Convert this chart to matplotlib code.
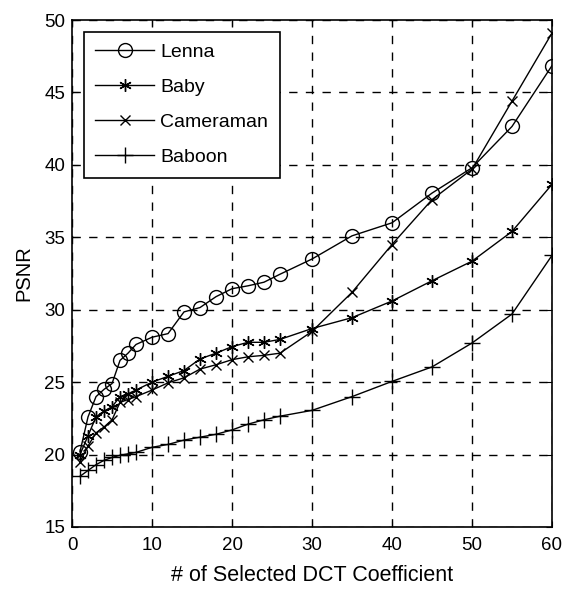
import matplotlib
matplotlib.use("Agg")
import matplotlib.pyplot as plt

x = [1, 2, 3, 4, 5, 6, 7, 8, 10, 12, 14, 16, 18, 20, 22, 24, 26, 30, 35, 40, 45, 50, 55, 60]
lenna = [20.2, 22.6, 24.0, 24.5, 24.9, 26.5, 27.0, 27.6, 28.1, 28.35, 29.85, 30.15, 30.9, 31.45,
         31.65, 31.9, 32.45, 33.5, 35.1, 36.0, 38.05, 39.8, 42.65, 46.85]
baby = [20.0, 21.3, 22.6, 23.0, 23.3, 24.0, 24.2, 24.45, 25.0, 25.4, 25.8, 26.6, 27.0, 27.45,
        27.75, 27.75, 27.95, 28.7, 29.45, 30.6, 32.0, 33.35, 35.4, 38.65]
cameraman = [19.5, 20.6, 21.5, 21.9, 22.4, 23.6, 23.8, 24.0, 24.45, 24.95, 25.3, 25.9, 26.2, 26.55,
             26.75, 26.85, 27.0, 28.5, 31.2, 34.5, 37.6, 39.7, 44.4, 49.1]
baboon = [18.5, 18.9, 19.3, 19.6, 19.8, 19.95, 20.05, 20.15, 20.5, 20.7, 21.0, 21.2, 21.4, 21.7,
          22.1, 22.4, 22.65, 23.05, 24.0, 25.05, 26.05, 27.7, 29.7, 33.75]
labels = ["Lenna", "Baby", "Cameraman", "Baboon"]
xticks = [0, 10, 20, 30, 40, 50, 60]
yticks = [15, 20, 25, 30, 35, 40, 45, 50]

plt.rcParams['font.family'] = ['Liberation Sans', 'DejaVu Sans']
fig = plt.figure(figsize=(5.68, 5.89), dpi=100)
ax = fig.add_axes([0.1268, 0.1053, 0.845, 0.8607])

kw = dict(color='black', linewidth=1.0, markerfacecolor='none', markeredgecolor='black')
ax.plot(x, lenna, marker='o', markersize=10, label=labels[0], **kw)
ax.plot(x, baby, marker=(6, 2, 0), markersize=9, label=labels[1], **kw)
ax.plot(x, cameraman, marker='x', markersize=7, label=labels[2], **kw)
ax.plot(x, baboon, marker='+', markersize=11, label=labels[3], **kw)

ax.set_xlim(0, 60)
ax.set_ylim(15, 50)
ax.set_xticks(xticks)
ax.set_yticks(yticks)
ax.tick_params(direction='in', top=True, right=True, labelsize=13.5, length=4)
ax.tick_params(axis='x', pad=7)
ax.tick_params(axis='y', pad=5)
ax.grid(True, linestyle=(0, (6, 6)), color='black', linewidth=1.0)
for s in ax.spines.values():
    s.set_linewidth(1.2)
ax.set_xlabel("# of Selected DCT Coefficient", fontsize=15.5, labelpad=8)
ax.set_ylabel("PSNR", fontsize=14.5, labelpad=8)

leg = ax.legend(loc='upper left', fontsize=14, frameon=True, fancybox=False,
                edgecolor='black', framealpha=1, handlelength=3.0, handletextpad=0.35,
                borderaxespad=0.6, labelspacing=0.9, borderpad=0.6)
leg.get_frame().set_linewidth(1.2)

fig.savefig("out.png", dpi=100)
